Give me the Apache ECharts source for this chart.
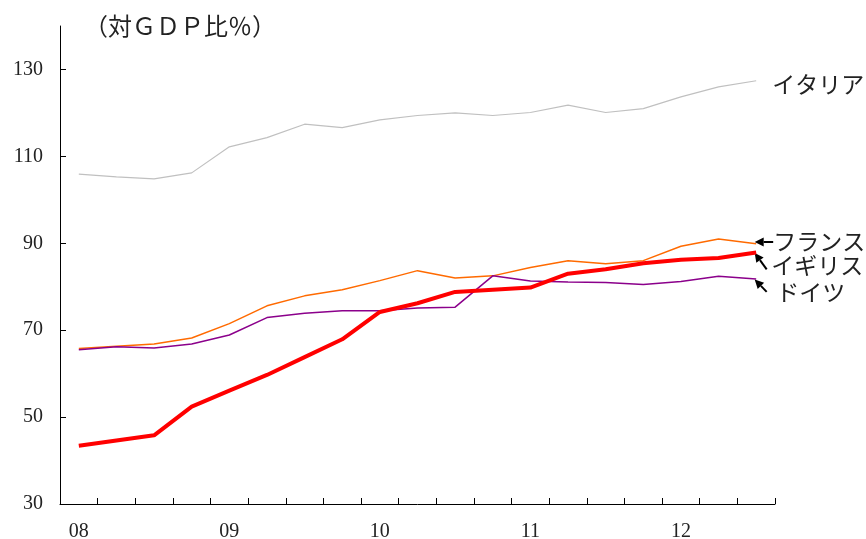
<!DOCTYPE html>
<html><head><meta charset="utf-8">
<script src="https://cdn.jsdelivr.net/npm/echarts@6/dist/echarts.min.js"></script>
<style>html,body{margin:0;padding:0;background:#fff}#c{width:866px;height:539px}</style>
</head><body><div id="c"></div>
<script>
const quarters = ['08-1','08-2','08-3','08-4','09-1','09-2','09-3','09-4','10-1','10-2','10-3','10-4','11-1','11-2','11-3','11-4','12-1','12-2','12-3'];
const italy   = [105.9,105.3,104.8,106.2,112.2,114.3,117.4,116.6,118.4,119.4,120.0,119.4,120.1,121.8,120.1,121.0,123.7,126.0,127.4];
const france  = [65.8,66.3,66.8,68.2,71.5,75.6,77.9,79.3,81.4,83.7,82.0,82.5,84.4,86.0,85.3,86.0,89.3,91.0,89.9];
const germany = [65.5,66.2,65.9,66.8,68.9,72.9,73.9,74.5,74.5,75.1,75.3,82.5,81.3,81.1,81.0,80.5,81.2,82.4,81.8];
const uk      = [43.4,44.6,45.8,52.4,56.1,59.7,63.8,67.9,74.2,76.2,78.8,79.3,79.8,83.0,84.0,85.4,86.2,86.6,87.9];
const yTicks  = [30,50,70,90,110,130];
const seriesNames = ['イタリア','フランス','ドイツ','イギリス'];
const unitLabel = '（対ＧＤＰ比％）';

const FONT = "'Liberation Serif','Noto Sans CJK JP',serif";
const chart = echarts.init(document.getElementById('c'));
const mk = (name, data, color, width) => ({
  name, type:'line', data, symbol:'none', silent:true, animation:false,
  lineStyle:{color, width}, itemStyle:{color}
});
chart.setOption({
  animation:false,
  grid:{left:60, right:91, top:26, bottom:35, outerBoundsMode:'none', containLabel:false},
  xAxis:{type:'category', data:quarters, boundaryGap:true,
    axisLine:{lineStyle:{color:'#000', width:1}},
    axisTick:{show:true, interval:0, inside:true, length:6, lineStyle:{color:'#000', width:1}},
    axisLabel:{interval:3, margin:18, color:'#222', fontSize:20, fontFamily:FONT,
      formatter:v=>v.slice(0,2)}},
  yAxis:{type:'value', min:30, max:140, interval:20,
    splitLine:{show:false},
    axisLine:{show:true, lineStyle:{color:'#000', width:1}},
    axisTick:{show:true, inside:true, length:6, customValues:yTicks, lineStyle:{color:'#000'}},
    axisLabel:{customValues:yTicks, margin:17, color:'#222', fontSize:20, fontFamily:FONT}},
  series:[
    mk(seriesNames[0], italy, '#c0c0c0', 1.2),
    mk(seriesNames[1], france, '#ff6a00', 1.5),
    mk(seriesNames[2], germany, '#8b008b', 1.5),
    mk(seriesNames[3], uk, '#ff0000', 4)
  ]
});

function last(arr){ return chart.convertToPixel({gridIndex:0}, [arr.length-1, arr[arr.length-1]]); }
function arrow(tx,ty,sx,sy){
  const dx=tx-sx, dy=ty-sy, L=Math.hypot(dx,dy), ux=dx/L, uy=dy/L;
  const hl=9, hw=4.5, bx=tx-ux*hl, by=ty-uy*hl;
  return [
    {type:'line', shape:{x1:sx,y1:sy,x2:bx,y2:by}, style:{stroke:'#000', lineWidth:2}},
    {type:'polygon', shape:{points:[[tx,ty],[bx-uy*hw,by+ux*hw],[bx+uy*hw,by-ux*hw]]}, style:{fill:'#000'}}
  ];
}
const txt = (x,y,t)=>({type:'text', x, y, style:{text:t, fill:'#222', font:"23px 'Noto Sans CJK JP'", textVerticalAlign:'middle'}});
const pI=last(italy), pF=last(france), pG=last(germany), pU=last(uk);
const g = [
  {type:'text', x:84, y:26, style:{text:unitLabel, fill:'#222', font:"24px 'Noto Sans CJK JP'", textVerticalAlign:'middle'}},
  txt(pI[0]+16, pI[1]+4, seriesNames[0]),
  txt(pF[0]+17, pF[1]-2, seriesNames[1]),
  txt(pU[0]+15, pU[1]+13, seriesNames[3]),
  txt(pG[0]+20, pG[1]+13, seriesNames[2]),
  ...arrow(pF[0]-1.5, pF[1]-1.7, pF[0]+17, pF[1]-1.7),
  ...arrow(pU[0]-1.5, pU[1]+0.5, pU[0]+10.5, pU[1]+17),
  ...arrow(pG[0]-1.5, pG[1]+0.5, pG[0]+10.5, pG[1]+13)
];
chart.setOption({graphic:g});
</script></body></html>
